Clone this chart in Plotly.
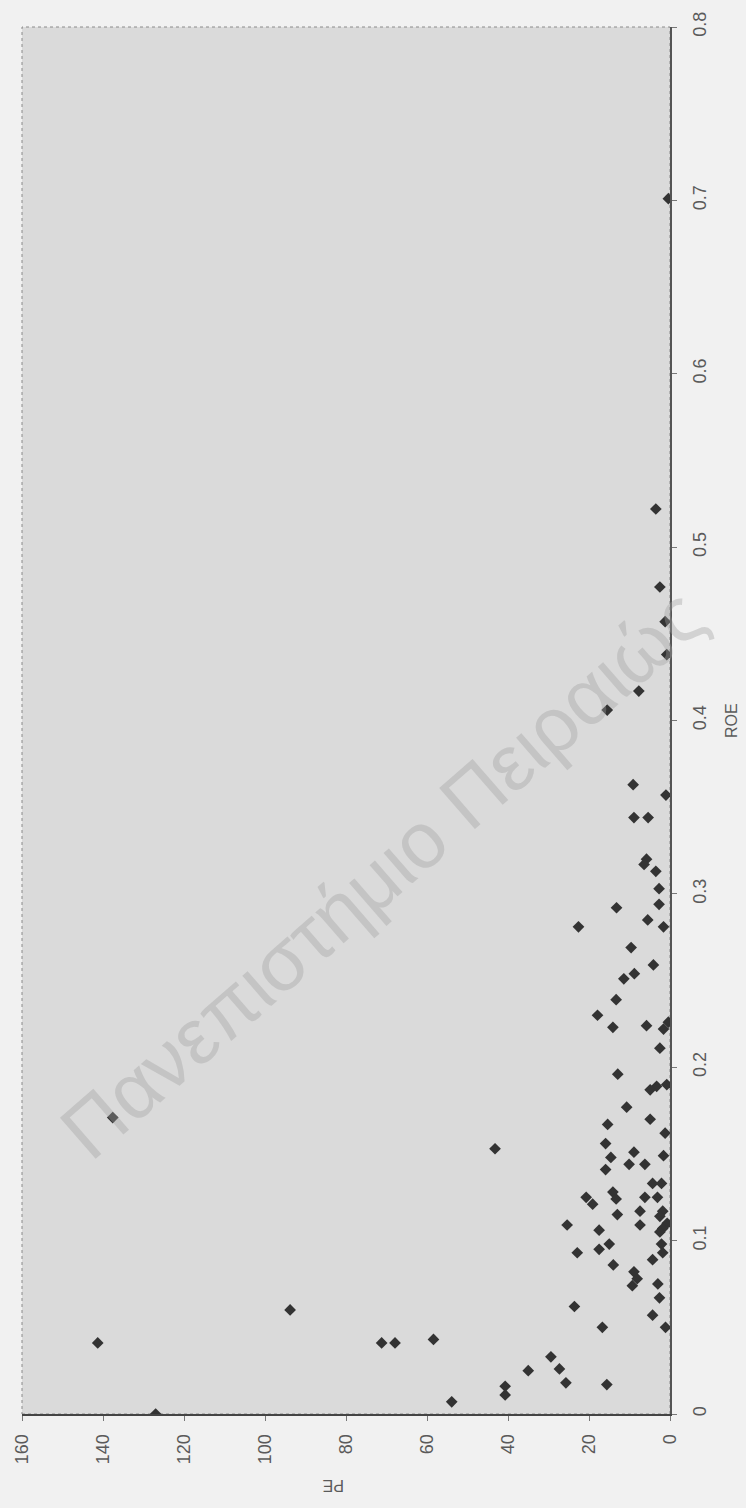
import plotly.graph_objects as go

# PE (price/earnings) and ROE values
pe = [10.7, 4.9, 15.4, 1.2, 43.2, 15.9, 8.9, 1.6, 14.6, 10.1, 6.2, 15.9, 4.3, 2.1,
      14.1, 13.3, 20.7, 19.1, 6.2, 3.1, 7.4, 1.8, 2.5, 13.0, 0.7, 25.4, 7.4, 1.8,
      17.5, 2.5, 15.0, 2.1, 17.5, 22.9, 1.8, 4.3, 14.0, 8.9, 8.1, 9.3, 3.0, 2.6,
      23.6, 4.3, 16.7, 1.1, 29.4, 35.0, 27.3, 25.7, 15.6, 40.7, 40.7,
      9.1, 1.0, 8.9, 5.4, 5.8, 6.4, 3.5, 2.7, 13.2, 2.7, 22.6, 5.5, 1.6, 9.6,
      4.1, 8.8, 11.4, 13.3, 17.9, 14.1, 5.8, 0.4, 1.6, 2.5, 12.9, 0.8, 3.3, 4.9,
      3.5, 2.5, 1.2, 0.8, 7.7, 15.5,
      0.4,
      137.6, 93.8, 141.3, 71.2, 67.9, 58.4, 53.9, 127.0]
roe = [0.177, 0.170, 0.167, 0.162, 0.153, 0.156, 0.151, 0.149, 0.148, 0.144, 0.144, 0.141, 0.133, 0.133,
       0.128, 0.124, 0.125, 0.121, 0.125, 0.125, 0.117, 0.117, 0.114, 0.115, 0.110, 0.109, 0.109, 0.107,
       0.106, 0.105, 0.098, 0.098, 0.095, 0.093, 0.093, 0.089, 0.086, 0.082, 0.078, 0.074, 0.075, 0.067,
       0.062, 0.057, 0.050, 0.050, 0.033, 0.025, 0.026, 0.018, 0.017, 0.016, 0.011,
       0.363, 0.357, 0.344, 0.344, 0.320, 0.317, 0.313, 0.303, 0.292, 0.294, 0.281, 0.285, 0.281, 0.269,
       0.259, 0.254, 0.251, 0.239, 0.230, 0.223, 0.224, 0.226, 0.222, 0.211, 0.196, 0.190, 0.189, 0.187,
       0.522, 0.477, 0.457, 0.438, 0.417, 0.406,
       0.701,
       0.171, 0.060, 0.041, 0.041, 0.041, 0.043, 0.007, 0.0]

pe_ticks = [0, 20, 40, 60, 80, 100, 120, 140, 160]
roe_ticks = [0, 0.1, 0.2, 0.3, 0.4, 0.5, 0.6, 0.7, 0.8]
roe_labels = ["0", "0.1", "0.2", "0.3", "0.4", "0.5", "0.6", "0.7", "0.8"]

FONT = "Liberation Sans, Arial, sans-serif"

fig = go.Figure()
fig.add_trace(go.Scatter(
    x=pe, y=roe, mode="markers",
    marker=dict(symbol="diamond", size=9, color="#333333", line=dict(width=0)),
    showlegend=False, hoverinfo="skip"))

# dotted frame on top / left
fig.add_shape(type="rect", xref="x domain", yref="y domain", x0=0, x1=1, y0=0, y1=1,
              line=dict(color="#8a8a8a", width=1, dash="dot"), layer="below")

fig.update_layout(
    width=746, height=1508,
    margin=dict(l=22, r=76, t=25, b=94),
    paper_bgcolor="#f1f1f1", plot_bgcolor="#dadada",
    font=dict(family=FONT, size=18, color="#5a5a5a"),
    xaxis=dict(range=[160, 0], tickvals=pe_ticks, tickangle=-90,
               showgrid=False, zeroline=False, showline=True, linecolor="#444444", linewidth=2,
               ticks="outside", ticklen=5, tickcolor="#777777", ticklabelstandoff=6),
    yaxis=dict(range=[0, 0.8], tickvals=roe_ticks, ticktext=roe_labels, tickangle=-90, side="right",
               showgrid=False, zeroline=False, showline=True, linecolor="#555555", linewidth=1.5,
               ticks="outside", ticklen=5, tickcolor="#777777", ticklabelstandoff=8),
    annotations=[
        dict(text="ROE", xref="paper", yref="paper", x=1.0, xshift=72, y=0.5, showarrow=False,
             textangle=-90, font=dict(size=16, color="#5a5a5a")),
        dict(text="PE", xref="paper", yref="paper", x=0.5, xshift=-12, y=0, yshift=-82, showarrow=False,
             textangle=180, font=dict(size=16, color="#5a5a5a")),
        dict(text="Πανεπιστήμιο Πειραιώς", xref="paper", yref="paper", x=0.555, y=0.39,
             showarrow=False, textangle=-41,
             font=dict(family=FONT, size=79, color="rgba(160,160,160,0.38)")),
    ],
)

fig.write_html("out.html")
